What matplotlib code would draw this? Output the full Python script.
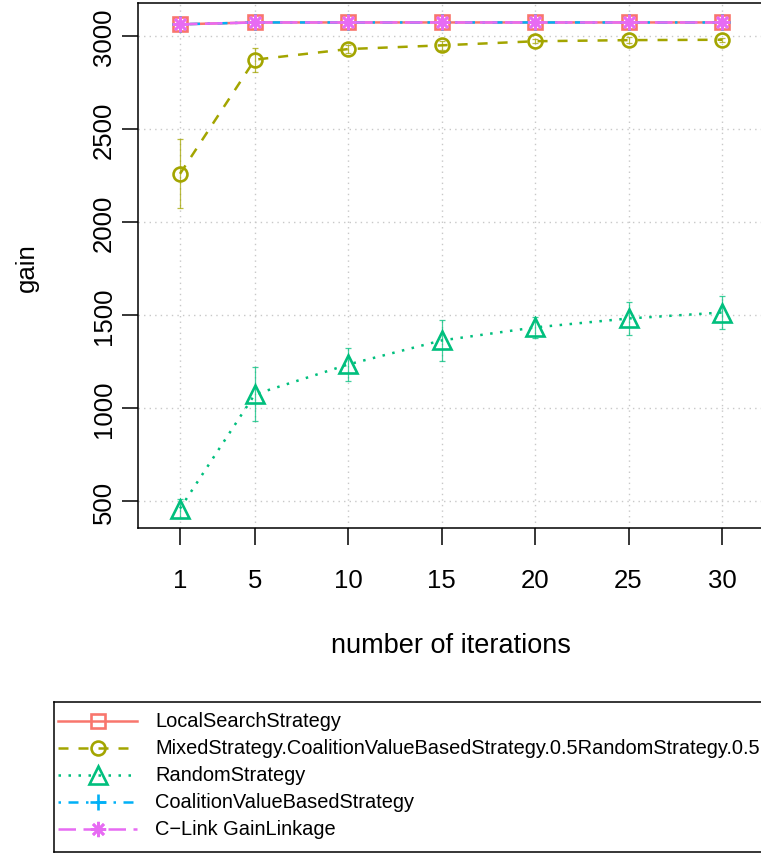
import matplotlib
matplotlib.use("Agg")
import matplotlib.pyplot as plt
from matplotlib.lines import Line2D
import numpy as np

plt.rcParams['font.family'] = ['Liberation Sans', 'DejaVu Sans']

# %% Data
iterations = [1, 5, 10, 15, 20, 25, 30]

names = ["LocalSearchStrategy",
         "MixedStrategy.CoalitionValueBasedStrategy.0.5RandomStrategy.0.5",
         "RandomStrategy",
         "CoalitionValueBasedStrategy",
         "C\u2212Link GainLinkage"]

local_search = [3063, 3073, 3073, 3073, 3073, 3073, 3073]
local_search_sd = [8, 8, 8, 8, 8, 8, 8]
mixed = [2260, 2873, 2930, 2950, 2972, 2978, 2980]
mixed_sd = [186, 65, 20, 25, 12, 15, 12]
random_strat = [462, 1075, 1236, 1365, 1435, 1483, 1515]
random_sd = [50, 145, 88, 110, 57, 88, 88]
coalition_vb = [3063, 3073, 3073, 3073, 3073, 3073, 3073]
coalition_vb_sd = [8, 8, 8, 8, 8, 8, 8]
clink = [3063, 3073, 3073, 3073, 3073, 3073, 3073]
clink_sd = [8, 8, 8, 8, 8, 8, 8]

series = [local_search, mixed, random_strat, coalition_vb, clink]
errors = [local_search_sd, mixed_sd, random_sd, coalition_vb_sd, clink_sd]

# R-like styles: hue palette, lty 1..5, pch 0..3 and 8
colors = ["#F8766D", "#A3A500", "#00BF7D", "#00B0F6", "#E76BF3"]
dashes = [None, (4, 4), (1, 3), (1, 3, 4, 3), (7, 3)]
markers = ["s", "o", "^", "+", (8, 2, 0)]
msizes = [10, 10, 13, 12, 11]

W, H = 761, 854
fig = plt.figure(figsize=(W / 100, H / 100), dpi=100)

# plot region in pixels
left, right, top, bottom = 138, 764, 4, 529
ax = fig.add_axes([left / W, 1 - bottom / H, (right - left) / W, (bottom - top) / H])

for i in range(len(series)):
    y = np.array(series[i])
    e = np.array(errors[i])
    ax.errorbar(iterations, y, yerr=e, fmt="none", ecolor=colors[i], elinewidth=0.9,
                capsize=2.2, capthick=0.9, alpha=0.75, zorder=3)
    line, = ax.plot(iterations, y, color=colors[i], lw=1.8, marker=markers[i],
                    ms=msizes[i], mfc="none", mew=1.9, zorder=4 + i)
    if dashes[i] is not None:
        line.set_dashes(dashes[i])

# x axis: 1 at px 180, 30 at px 722
px_per_unit = (722 - 180) / 29
x0 = 1 - (180 - left) / px_per_unit
ax.set_xlim(x0, x0 + (right - left) / px_per_unit)
all_vals = np.concatenate([np.array(s) for s in series])
pad = 0.04 * (all_vals.max() - all_vals.min())
ax.set_ylim(all_vals.min() - pad, all_vals.max() + pad)

ax.set_xticks(iterations)
ax.set_yticks([500, 1000, 1500, 2000, 2500, 3000])
ax.grid(True, color="#C8C8C8", linestyle=(0, (1, 3)), linewidth=1.0)
ax.set_axisbelow(True)
ax.tick_params(axis="x", length=12.5, width=1.1, pad=16, labelsize=18.5)
ax.tick_params(axis="y", length=11.5, width=1.1, pad=4.5, labelsize=18.5)
for lbl in ax.get_yticklabels():
    lbl.set_rotation(90)
    lbl.set_va("center")
for sp in ax.spines.values():
    sp.set_linewidth(1.1)

fig.text(451 / W, 1 - 646 / H, "number of iterations", ha="center", va="center", fontsize=19.5)
fig.text(27 / W, 1 - 268 / H, "gain", ha="center", va="center", rotation=90, fontsize=18.5)

# legend box drawn in its own axes, pixel coordinates
lx0, ly0, lx1, ly1 = 54, 703, 800, 853
lax = fig.add_axes([lx0 / W, 1 - ly1 / H, (lx1 - lx0) / W, (ly1 - ly0) / H])
lax.set_xlim(lx0, lx1)
lax.set_ylim(ly1, ly0)
lax.set_xticks([])
lax.set_yticks([])
for sp in lax.spines.values():
    sp.set_linewidth(1.1)
lax.patch.set_alpha(0)

row0, row_step = 722, 27
for i in range(len(names)):
    yr = row0 + i * row_step
    h = Line2D([58, 137], [yr, yr], color=colors[i], lw=1.8)
    if dashes[i] is not None:
        h.set_dashes(dashes[i])
    lax.add_line(h)
    lax.plot([97.5], [yr], color=colors[i], marker=markers[i], ms=msizes[i],
             mfc="none", mew=1.9, linestyle="none")
    lax.text(155, yr, names[i], va="center", ha="left", fontsize=14.4)

fig.savefig("out.png", dpi=100)
